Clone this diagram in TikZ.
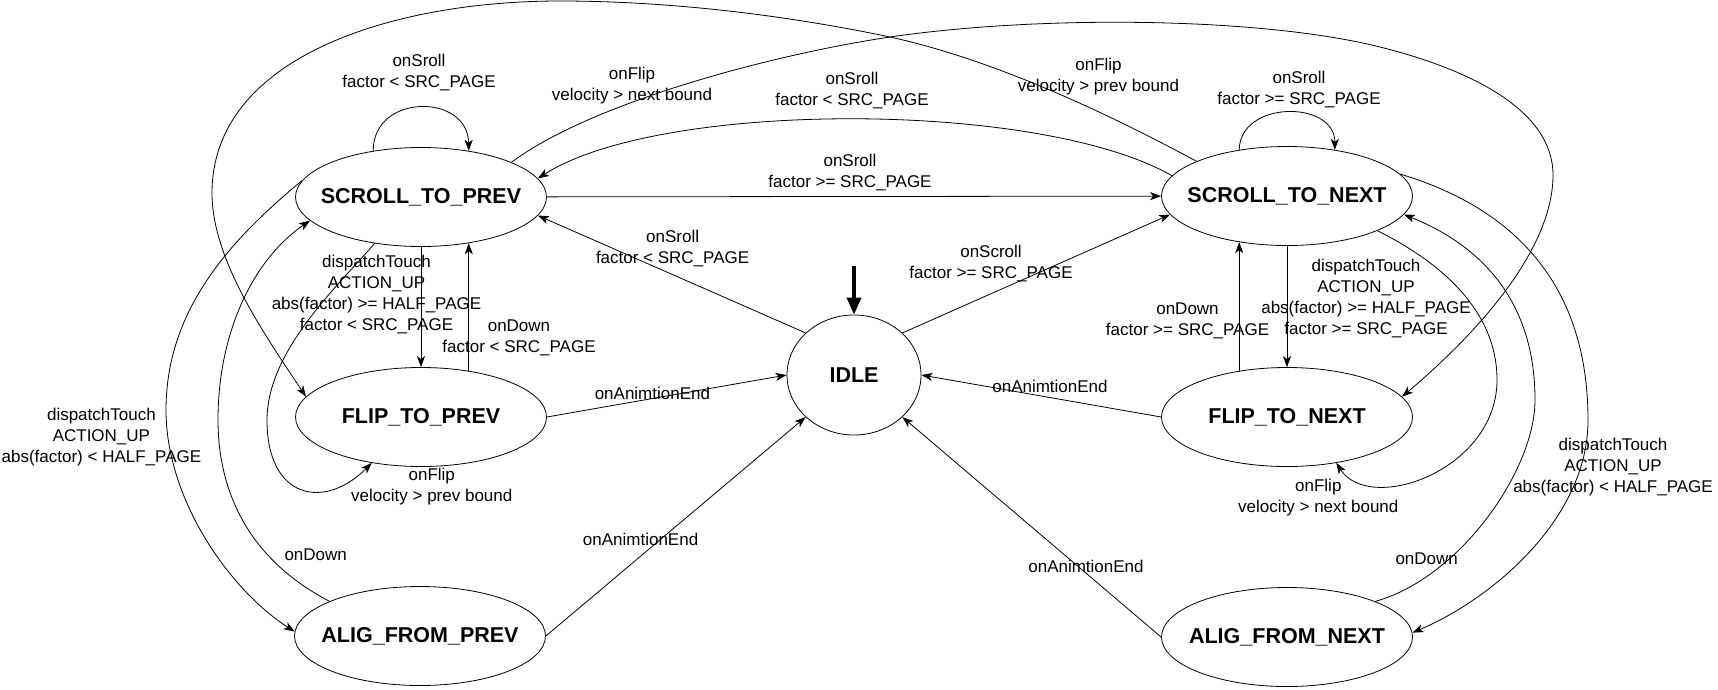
\documentclass[tikz,border=0pt]{standalone}
\usepackage{fontspec}
\setmainfont{Liberation Sans}
\usetikzlibrary{shapes.geometric,arrows.meta}
\begin{document}
\begin{tikzpicture}[x=1pt, y=-1pt, line width=0.8pt, >={Stealth[length=11pt,width=8pt,inset=3pt]},
	state/.style = {shape=ellipse, draw, minimum width=251pt, minimum height=99pt, inner sep=0pt, font=\fontsize{21.5}{24}\selectfont\bfseries},
	lbl/.style = {align=center, inner sep=0pt, font=\fontsize{17}{21}\selectfont},
	init/.style = {line width=3.5pt, -{Triangle[length=17pt,width=14pt]}}]
	\useasboundingbox (0,0) rectangle (1718,689);
	\node[state] (prev) at (421,197) {\makebox[0pt]{SCROLL\_TO\_PREV}};
	\node[state] (next) at (1287,196) {\makebox[0pt]{SCROLL\_TO\_NEXT}};
	\node[state] (flipprev) at (421,417) {\makebox[0pt]{FLIP\_TO\_PREV}};
	\node[state] (flipnext) at (1287,417) {\makebox[0pt]{FLIP\_TO\_NEXT}};
	\node[state] (aligprev) at (420,636) {\makebox[0pt]{ALIG\_FROM\_PREV}};
	\node[state] (alignext) at (1287,637) {\makebox[0pt]{ALIG\_FROM\_NEXT}};
	\node[state, minimum width=134pt, minimum height=120pt] (idle) at (854,375) {\makebox[0pt]{IDLE}};
	\coordinate (start) at (854,266);
	\draw[init] (start) -- (idle.north);

	\draw[->] (prev.136) .. controls (373,93) and (468,93) .. (prev.44);
	\draw[->] (next.136) .. controls (1240,100) and (1335,100) .. (next.44);
	\draw[->] (prev) -- (next);
	\draw[->] (next.170) .. controls (1040,100) and (660,100) .. (prev.9);
	\draw[->] (prev.21) .. controls (591,103) and (770,55) .. (890,37) .. controls (1040,15) and (1260,17) .. (1380,47)
		.. controls (1470,69.5) and (1553,110) .. (1553,175) .. controls (1553,240) and (1495,318) .. (flipnext.10);
	\draw[->] (next.159) .. controls (1118,119) and (1000,61) .. (890,37) .. controls (800,18) and (680,1) .. (560,1)
		.. controls (390,1) and (212,58) .. (212,193) .. controls (212,260) and (265,335) .. (flipprev.170);
	\draw[->] (prev.south) -- (flipprev.north);
	\draw[->] (flipprev.44) -- (prev.-44);
	\draw[->] (next.south) -- (flipnext.north);
	\draw[->] (flipnext.136) -- (next.-136);
	\draw[->] (next.-21) .. controls (1440,262) and (1497,310) .. (1497,380) .. controls (1497,470) and (1370,515) .. (flipnext.-43);
	\draw[->] (prev.-135) .. controls (340,284) and (267,350) .. (267,420) .. controls (267,500) and (325,510) .. (flipprev.-137);
	\draw[->] (next.11) .. controls (1520,210) and (1588,290) .. (1588,420) .. controls (1588,520) and (1490,600) .. (alignext.2);
	\draw[->] (alignext.22) .. controls (1460,578) and (1535,470) .. (1535,400) .. controls (1535,300) and (1480,245) .. (next.-9);
	\draw[->] (prev.172) .. controls (230,240) and (166,310) .. (166,410) .. controls (166,500) and (230,590) .. (aligprev.178);
	\draw[->] (aligprev.159) .. controls (240,555) and (218,480) .. (218,420) .. controls (218,330) and (255,258) .. (prev.-168);
	\draw[->] (flipprev.east) -- (idle.west);
	\draw[->] (aligprev.east) -- (idle.-139);
	\draw[->] (idle.139) -- (prev.-9);
	\draw[->] (idle.41) -- (next.-171);
	\draw[->] (flipnext.west) -- (idle.east);
	\draw[->] (alignext.west) -- (idle.-41);

	\node[lbl] (l-prevloop) at (419,72.5) {onSroll\\factor < SRC\_PAGE};
	\node[lbl] (l-nextloop) at (1299,90) {onSroll\\factor >= SRC\_PAGE};
	\node[lbl] (l-tonext) at (850,172.5) {onSroll\\factor >= SRC\_PAGE};
	\node[lbl] (l-toprev) at (852,90.5) {onSroll\\factor < SRC\_PAGE};
	\node[lbl] (l-flipnext) at (632,86) {onFlip\\velocity > next bound};
	\node[lbl] (l-flipprev) at (1098.5,77) {onFlip\\velocity > prev bound};
	\node[lbl] (l-upprev) at (376.5,294.7) {dispatchTouch\\ACTION\_UP\\abs(factor) >= HALF\_PAGE\\factor < SRC\_PAGE};
	\node[lbl] (l-downprev) at (519,337.5) {onDown\\factor < SRC\_PAGE};
	\node[lbl] (l-upnext) at (1366,298.3) {dispatchTouch\\ACTION\_UP\\abs(factor) >= HALF\_PAGE\\factor >= SRC\_PAGE};
	\node[lbl] (l-downnext) at (1187.5,320.5) {onDown\\factor >= SRC\_PAGE};
	\node[lbl] (l-flipnext2) at (1318.3,497.8) {onFlip\\velocity > next bound};
	\node[lbl] (l-flipprev2) at (431.8,487) {onFlip\\velocity > prev bound};
	\node[lbl] (l-alignext) at (1613,467.5) {dispatchTouch\\ACTION\_UP\\abs(factor) < HALF\_PAGE};
	\node[lbl] (l-alignextdown) at (1426.7,558.3) {onDown};
	\node[lbl] (l-aligprev) at (101.4,437.5) {dispatchTouch\\ACTION\_UP\\abs(factor) < HALF\_PAGE};
	\node[lbl] (l-aligprevdown) at (315.7,555) {onDown};
	\node[lbl] (l-endflipprev) at (652.4,393.3) {onAnimtionEnd};
	\node[lbl] (l-endaligprev) at (640.6,539) {onAnimtionEnd};
	\node[lbl] (l-idleprev) at (672.6,248.3) {onSroll\\factor < SRC\_PAGE};
	\node[lbl] (l-idlenext) at (991,263.7) {onScroll\\factor >= SRC\_PAGE};
	\node[lbl] (l-endflipnext) at (1050,386.7) {onAnimtionEnd};
	\node[lbl] (l-endalignext) at (1086,566.7) {onAnimtionEnd};
\end{tikzpicture}
\end{document}
